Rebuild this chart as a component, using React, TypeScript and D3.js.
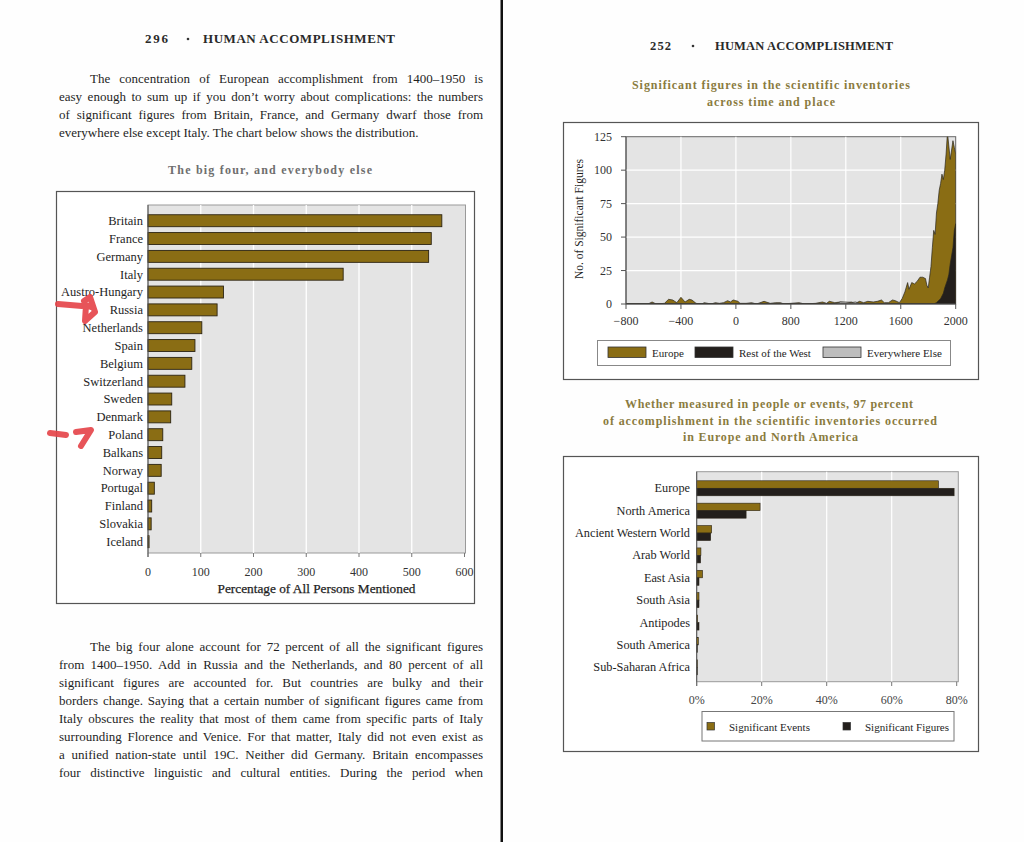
import React, { useLayoutEffect, useRef } from "react";
import * as d3 from "d3";

// ---------- DATA ----------
const countries = ["Britain", "France", "Germany", "Italy", "Austro-Hungary", "Russia", "Netherlands", "Spain", "Belgium", "Switzerland", "Sweden", "Denmark", "Poland", "Balkans", "Norway", "Portugal", "Finland", "Slovakia", "Iceland"];
const countryValues = [557, 537, 532, 370, 143, 131, 102, 89, 83, 70, 45, 43, 28, 26, 25, 12, 7, 6, 2];
const countryTicks = [0, 100, 200, 300, 400, 500, 600];

const years = [-800, -640, -610, -580, -520, -490, -460, -430, -400, -370, -340, -320, -290, -250, -230, -180, -150, -120, -90, -60, -40, -20, 0, 30, 60, 150, 230, 300, 410, 500, 580, 650, 700, 800, 860, 900, 980, 1030, 1060, 1080, 1120, 1160, 1200, 1240, 1270, 1300, 1330, 1360, 1400, 1430, 1460, 1480, 1510, 1540, 1560, 1590, 1610, 1630, 1650, 1660, 1680, 1700, 1720, 1740, 1760, 1780, 1790, 1800, 1810, 1820, 1830, 1840, 1850, 1860, 1870, 1880, 1890, 1900, 1910, 1920, 1930, 1940, 1950, 1960, 1970, 1980, 1990, 2000];
const europe = [0, 0, 1.5, 0, 0.5, 3.5, 3, 1, 5, 1.5, 3.5, 3, 0.5, 0, 1, 0, 1, 0.5, 1, 2.5, 1.5, 3, 2.5, 2, 0.5, 0.5, 1, 0, 2, 0.5, 1, 1, 0, 0.5, 1, 0, 0.5, 1.5, 0.5, 2, 1, 1.5, 1, 1.5, 0.5, 2, 1, 2, 1.5, 2, 3, 1, 1, 3, 2.5, 1, 4, 9, 16, 11, 16, 15, 17, 20, 20, 19, 14, 12, 20, 28, 42, 55, 52, 68, 75, 85, 90, 97, 93, 100, 112, 128, 118, 108, 115, 122, 117, 112];
const restOfWest = [0, 0, 0, 0, 0, 0, 0, 0, 0, 0, 0, 0, 0, 0, 0, 0, 0, 0, 0, 0, 0, 0, 0, 0, 0, 0, 0, 0, 0, 0, 0, 0, 0, 0, 0, 0, 0, 0, 0, 0, 0, 0, 0, 0, 0, 0, 0, 0, 0, 0, 0, 0, 0, 0, 0, 0, 0, 0, 0, 0, 0, 0, 0, 0, 0, 0, 0, 0, 0, 0, 0, 0, 0.5, 1, 2, 3, 4, 6, 8, 12, 15, 18, 22, 30, 36, 42, 55, 60];
const everywhereElse = [0, 0, 0, 0, 0, 0, 0, 0, 0, 0, 0, 0, 0, 0, 0, 0, 0, 0, 0, 0, 0, 0, 0, 0, 0, 0, 0, 0, 0, 0, 0, 0, 0, 0, 0, 0, 0, 0, 0, 0, 0, 1.5, 1.5, 1, 1.5, 0.5, 0, 0, 0, 0, 0, 0, 0, 0, 0, 0, 0, 0, 0, 0, 0, 0, 0, 0, 0, 0, 0, 0, 0, 0, 0, 0, 0, 0, 0, 0, 0, 1, 1, 1, 1.5, 2, 2, 2, 2.5, 3, 3, 3];
const yearTicks = [-800, -400, 0, 800, 1200, 1600, 2000];
const figureTicks = [0, 25, 50, 75, 100, 125];
const areaSeries = ["Europe", "Rest of the West", "Everywhere Else"];

const regions = ["Europe", "North America", "Ancient Western World", "Arab World", "East Asia", "South Asia", "Antipodes", "South America", "Sub-Saharan Africa"];
const significantEvents = [74.4, 19.5, 4.6, 1.3, 1.8, 0.7, 0.3, 0.5, 0.2];
const significantFigures = [79.2, 15.2, 4.3, 1.2, 0.7, 0.7, 0.7, 0.1, 0.05];
const percentTicks = [0, 20, 40, 60, 80];
const barSeries = ["Significant Events", "Significant Figures"];

const para1 = [
  "The concentration of European accomplishment from 1400–1950 is",
  "easy enough to sum up if you don’t worry about complications: the numbers",
  "of significant figures from Britain, France, and Germany dwarf those from",
  "everywhere else except Italy. The chart below shows the distribution.",
];
const para2 = [
  "The big four alone account for 72 percent of all the significant figures",
  "from 1400–1950. Add in Russia and the Netherlands, and 80 percent of all",
  "significant figures are accounted for. But countries are bulky and their",
  "borders change. Saying that a certain number of significant figures came from",
  "Italy obscures the reality that most of them came from specific parts of Italy",
  "surrounding Florence and Venice. For that matter, Italy did not even exist as",
  "a unified nation-state until 19C. Neither did Germany. Britain encompasses",
  "four distinctive linguistic and cultural entities. During the period when",
];

// ---------- STYLE ----------
const SERIF = "'Liberation Serif', 'Times New Roman', serif";
const OLIVE = "#8a6d14";
const DARK = "#231f1c";
const LIGHTGRAY = "#bdbdbd";
const PLOTBG = "#e4e4e4";
const TEXT = "#1e1e1e";

function JLine({ x, y, width, text, justify, size }: { x: number; y: number; width: number; text: string; justify: boolean; size: number }) {
  const ref = useRef<SVGTextElement>(null);
  useLayoutEffect(() => {
    const el = ref.current;
    if (!el || !justify) return;
    el.style.wordSpacing = "0px";
    el.removeAttribute("textLength");
    const w = el.getComputedTextLength();
    const spaces = (text.match(/ /g) || []).length;
    if (spaces > 0) {
      const ws = (width - w) / spaces;
      if (ws > -1.5) {
        el.style.wordSpacing = ws + "px";
      } else {
        el.setAttribute("textLength", String(width));
        el.setAttribute("lengthAdjust", "spacingAndGlyphs");
      }
    }
  }, [text, width, justify]);
  return (
    <text ref={ref} x={x} y={y} fontSize={size} fill={TEXT} fontFamily={SERIF}>
      {text}
    </text>
  );
}

function Title({ lines, color, size }: { lines: { t: string; x1: number; x2: number; y: number }[]; color: string; size: number }) {
  return (
    <g>
      {lines.map((l, i) => (
        <text key={i} x={l.x1} y={l.y} textLength={l.x2 - l.x1} lengthAdjust="spacing" fontSize={size} fontWeight="bold" fill={color} fontFamily={SERIF}>
          {l.t}
        </text>
      ))}
    </g>
  );
}

export default function App() {
  // Left bar chart
  const xL = d3.scaleLinear().domain([0, 600]).range([148, 464.5]);
  const yL = d3.scaleBand<string>().domain(countries).range([211.8, 550.6]).paddingInner(0.33).paddingOuter(0.165);
  const plotL = { x0: 148, x1: 465.5, y0: 205, y1: 553 };

  // Area chart
  const xA = d3.scaleLinear().domain(yearTicks).range(yearTicks.map((_, i) => 626 + (i * (955.7 - 626)) / (yearTicks.length - 1)));
  const yA = d3.scaleLinear().domain([0, 125]).range([304, 136.7]);
  const seriesData = [europe, everywhereElse, restOfWest];
  const seriesColors = [OLIVE, LIGHTGRAY, DARK];
  const area = d3
    .area<number>()
    .x((_, i) => xA(years[i]))
    .y0(yA(0))
    .y1((d) => yA(d))
    .curve(d3.curveLinear);

  // Bottom right grouped bars
  const xB = d3.scaleLinear().domain([0, 80]).range([696.7, 956.7]);
  const yB = d3.scaleBand<string>().domain(regions).range([477.1, 678.5]);
  const subB = d3.scaleBand<string>().domain(barSeries).range([-7.5, 7.5]);
  const barVals = [significantEvents, significantFigures];
  const barColors = [OLIVE, DARK];

  return (
    <div style={{ position: "absolute", left: 0, top: 0, width: 1024, height: 842, background: "#fff" }}>
      <svg width={1024} height={842} style={{ display: "block" }} fontFamily={SERIF}>
        <rect x={0} y={0} width={1024} height={842} fill="#fefefe" />
        {/* gutter */}
        <rect x={500.5} y={0} width={2.5} height={842} fill="#111" />

        {/* ---------- LEFT PAGE ---------- */}
        <Title
          size={13}
          color="#2a2a2a"
          lines={[
            { t: "296", x1: 145, x2: 168, y: 43 },
            { t: "HUMAN ACCOMPLISHMENT", x1: 203, x2: 395, y: 43 },
          ]}
        />
        <circle cx={188} cy={39} r={1.3} fill="#333" />
        {para1.map((t, i) => (
          <JLine key={i} x={i === 0 ? 90 : 59} y={82.5 + i * 18} width={i === 0 ? 393 : 424} text={t} justify={i < para1.length - 1} size={13} />
        ))}
        <Title size={12} color="#6e6e6e" lines={[{ t: "The big four, and everybody else", x1: 168, x2: 372, y: 174 }]} />

        {/* Left chart box */}
        <rect x={56.5} y={191.5} width={418} height={412} fill="#fff" stroke="#555" strokeWidth={1.2} />
        <rect x={plotL.x0} y={plotL.y0} width={plotL.x1 - plotL.x0} height={plotL.y1 - plotL.y0} fill={PLOTBG} stroke="#9a9a9a" strokeWidth={1} />
        {countryTicks.slice(1, -1).map((t) => (
          <line key={t} x1={xL(t)} x2={xL(t)} y1={plotL.y0} y2={plotL.y1} stroke="#fff" strokeWidth={1.3} />
        ))}
        {countries.map((c, i) => (
          <rect key={c} x={xL(0)} y={yL(c)!} width={Math.max(0.8, xL(countryValues[i]) - xL(0))} height={yL.bandwidth()} fill={OLIVE} stroke="#2c2412" strokeWidth={0.9} />
        ))}
        <line x1={plotL.x0} x2={plotL.x0} y1={plotL.y0} y2={plotL.y1 + 4} stroke="#555" strokeWidth={1} />
        {countryTicks.map((t) => (
          <g key={t}>
            <line x1={xL(t)} x2={xL(t)} y1={plotL.y1} y2={plotL.y1 + 4} stroke="#777" />
            <text x={xL(t)} y={576} textAnchor="middle" fontSize={12} fill="#333">
              {t}
            </text>
          </g>
        ))}
        {countries.map((c) => (
          <text key={c} x={143} y={yL(c)! + yL.bandwidth() / 2 + 4.3} textAnchor="end" fontSize={12.5} fill={TEXT}>
            {c}
          </text>
        ))}
        <text x={316.5} y={593} textAnchor="middle" fontSize={13.3} fill={TEXT} stroke={TEXT} strokeWidth={0.25}>
          Percentage of All Persons Mentioned
        </text>

        {/* red annotation marks */}
        <g fill="none" stroke="#e6464b" strokeWidth={6} strokeLinecap="round" strokeLinejoin="round" opacity={0.92}>
          <path d="M58,304 L82,306" />
          <path d="M84,301 L90,297 L95,312 L85,321 L86,305 L91,307" />
          <path d="M50,433 L66,435" />
          <path d="M76,432 L91,430 L81,446" />
        </g>

        {para2.map((t, i) => (
          <JLine key={i} x={i === 0 ? 90 : 59} y={650.5 + i * 18} width={i === 0 ? 393 : 424} text={t} justify={true} size={13} />
        ))}

        {/* ---------- RIGHT PAGE ---------- */}
        <Title
          size={12.5}
          color="#2a2a2a"
          lines={[
            { t: "252", x1: 650, x2: 671, y: 50 },
            { t: "HUMAN ACCOMPLISHMENT", x1: 715, x2: 893, y: 50 },
          ]}
        />
        <circle cx={693} cy={46} r={1.3} fill="#333" />
        <Title
          size={12}
          color="#8a7b3e"
          lines={[
            { t: "Significant figures in the scientific inventories", x1: 632, x2: 910, y: 89 },
            { t: "across time and place", x1: 707, x2: 835, y: 106 },
          ]}
        />

        {/* Area chart box */}
        <rect x={563.5} y={122.5} width={415} height={257} fill="#fff" stroke="#555" strokeWidth={1.2} />
        <defs>
          <clipPath id="areaClip">
            <rect x={626} y={136.7} width={955.7 - 626} height={304 - 136.7} />
          </clipPath>
        </defs>
        <rect x={626} y={136.7} width={955.7 - 626} height={304 - 136.7} fill={PLOTBG} stroke="#666" strokeWidth={1} />
        {yearTicks.slice(1, -1).map((t) => (
          <line key={t} x1={xA(t)} x2={xA(t)} y1={136.7} y2={304} stroke="#fff" strokeWidth={1.2} />
        ))}
        {figureTicks.slice(1, -1).map((t) => (
          <line key={t} x1={626} x2={955.7} y1={yA(t)} y2={yA(t)} stroke="#fff" strokeWidth={1.2} />
        ))}
        <g clipPath="url(#areaClip)">
          {seriesData.map((s, i) => (
            <path key={i} d={area(s) || ""} fill={seriesColors[i]} stroke="#2a261f" strokeWidth={0.7} />
          ))}
        </g>
        <line x1={626} x2={955.7} y1={304} y2={304} stroke="#555" />
        <line x1={626} x2={626} y1={136.7} y2={304} stroke="#555" />
        {yearTicks.map((t) => (
          <g key={t}>
            <line x1={xA(t)} x2={xA(t)} y1={304} y2={309} stroke="#555" />
            <text x={xA(t)} y={325} textAnchor="middle" fontSize={12} fill="#333">
              {t < 0 ? "\u2212" + Math.abs(t) : t}
            </text>
          </g>
        ))}
        {figureTicks.map((t) => (
          <g key={t}>
            <line x1={621} x2={626} y1={yA(t)} y2={yA(t)} stroke="#555" />
            <text x={612} y={yA(t) + 4} textAnchor="end" fontSize={12} fill="#333">
              {t}
            </text>
          </g>
        ))}
        <text transform="translate(583,219) rotate(-90)" textAnchor="middle" fontSize={11.5} fill={TEXT}>
          No. of Significant Figures
        </text>
        {/* area legend */}
        <rect x={597.5} y={340.5} width={353} height={25} fill="#fff" stroke="#888" strokeWidth={1} />
        {areaSeries.map((s, i) => {
          const sx = [608, 695, 823][i];
          const col = [OLIVE, DARK, LIGHTGRAY][i];
          return (
            <g key={s}>
              <rect x={sx} y={347} width={38} height={10.5} fill={col} stroke="#333" strokeWidth={0.8} />
              <text x={sx + 44} y={356.5} fontSize={11} fill={TEXT}>
                {s}
              </text>
            </g>
          );
        })}

        <Title
          size={12}
          color="#8a7b3e"
          lines={[
            { t: "Whether measured in people or events, 97 percent", x1: 625, x2: 913, y: 408 },
            { t: "of accomplishment in the scientific inventories occurred", x1: 603, x2: 937, y: 425 },
            { t: "in Europe and North America", x1: 683, x2: 858, y: 441 },
          ]}
        />

        {/* Bar chart box */}
        <rect x={563.5} y={456.5} width={415} height={295} fill="#fff" stroke="#555" strokeWidth={1.2} />
        <rect x={696.7} y={471.7} width={958.3 - 696.7} height={681.7 - 471.7} fill={PLOTBG} stroke="#9a9a9a" strokeWidth={1} />
        {percentTicks.slice(1, -1).map((t) => (
          <line key={t} x1={xB(t)} x2={xB(t)} y1={471.7} y2={681.7} stroke="#fff" strokeWidth={1.2} />
        ))}
        {regions.map((r, ri) => (
          <g key={r}>
            {barSeries.map((s, si) => {
              const cy = yB(r)! + yB.bandwidth() / 2;
              return (
                <rect key={s} x={xB(0)} y={cy + subB(s)!} width={Math.max(0.6, xB(barVals[si][ri]) - xB(0))} height={subB.bandwidth()} fill={barColors[si]} stroke="#2a2418" strokeWidth={0.6} />
              );
            })}
            <text x={690} y={yB(r)! + yB.bandwidth() / 2 + 4} textAnchor="end" fontSize={12.3} fill={TEXT}>
              {r}
            </text>
          </g>
        ))}
        <line x1={696.7} x2={696.7} y1={471.7} y2={686} stroke="#555" />
        {percentTicks.map((t) => (
          <g key={t}>
            <line x1={xB(t)} x2={xB(t)} y1={681.7} y2={686} stroke="#777" />
            <text x={xB(t)} y={703.5} textAnchor="middle" fontSize={12} fill="#444">
              {t + "%"}
            </text>
          </g>
        ))}
        <rect x={702} y={711.5} width={252} height={29.5} fill="#fff" stroke="#777" strokeWidth={1} />
        {barSeries.map((s, i) => {
          const sx = [707, 843][i];
          return (
            <g key={s}>
              <rect x={sx} y={722.5} width={7.5} height={7.5} fill={barColors[i]} stroke="#333" strokeWidth={0.7} />
              <text x={sx + 22} y={730.5} fontSize={11} fill={TEXT}>
                {s}
              </text>
            </g>
          );
        })}
      </svg>
    </div>
  );
}
